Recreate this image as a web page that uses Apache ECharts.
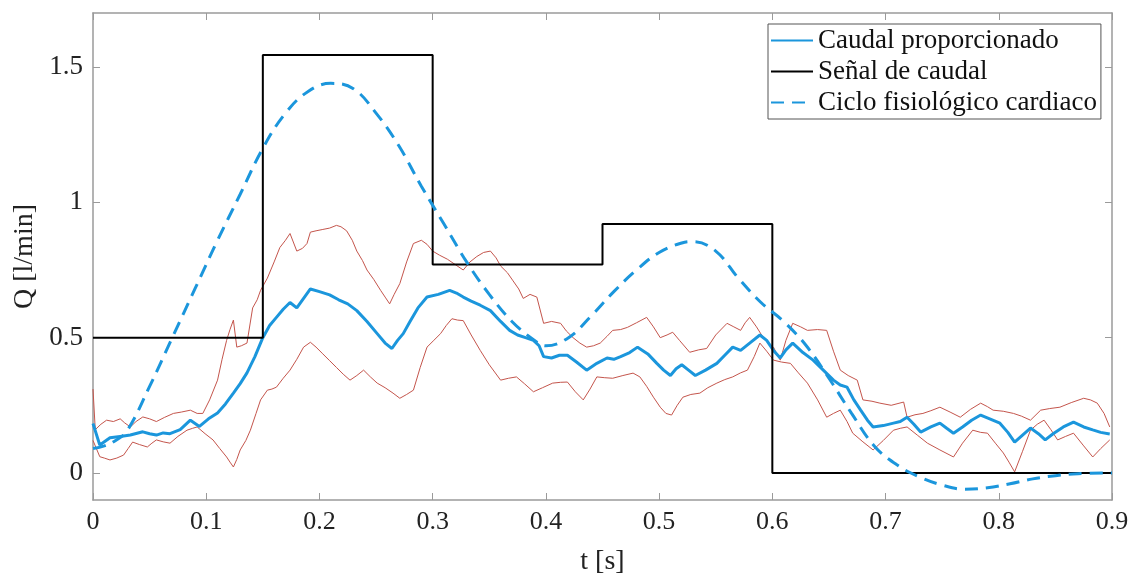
<!DOCTYPE html>
<html>
<head>
<meta charset="utf-8">
<script src="https://cdn.jsdelivr.net/npm/echarts@6/dist/echarts.min.js"></script>
<style>
html,body{margin:0;padding:0;background:#fff;}
#chart{width:1137px;height:583px;}
</style>
</head>
<body>
<div id="chart"></div>
<script>
// ---------- DATA ----------
const xTicks = [0, 0.1, 0.2, 0.3, 0.4, 0.5, 0.6, 0.7, 0.8, 0.9];
const xTickLabels = ['0', '0.1', '0.2', '0.3', '0.4', '0.5', '0.6', '0.7', '0.8', '0.9'];
const yTicks = [0, 0.5, 1, 1.5];
const yTickLabels = ['0', '0.5', '1', '1.5'];

const seriesNames = ['Caudal proporcionado', 'Señal de caudal', 'Ciclo fisiológico cardiaco'];

// Señal de caudal (step signal)
const senalT = [0, 0.15, 0.3, 0.45, 0.6, 0.9];
const senalQ = [0.5, 1.545, 0.77, 0.92, 0, 0];

// Ciclo fisiológico cardiaco (dashed)
const cicloT = [0, 0.01, 0.02, 0.03, 0.05, 0.07, 0.09, 0.11, 0.13, 0.15, 0.17, 0.19, 0.21, 0.23, 0.25, 0.27, 0.29, 0.31, 0.33, 0.35, 0.37, 0.39, 0.40, 0.42, 0.44, 0.46, 0.48, 0.50, 0.52, 0.53, 0.55, 0.57, 0.59, 0.61, 0.63, 0.65, 0.67, 0.69, 0.71, 0.73, 0.75, 0.77, 0.79, 0.81, 0.83, 0.85, 0.87, 0.9];
const cicloQ = [0.09, 0.10, 0.12, 0.155, 0.32, 0.50, 0.68, 0.86, 1.03, 1.20, 1.33, 1.41, 1.44, 1.42, 1.33, 1.21, 1.06, 0.92, 0.78, 0.66, 0.56, 0.49, 0.47, 0.50, 0.58, 0.67, 0.75, 0.815, 0.85, 0.855, 0.82, 0.72, 0.63, 0.56, 0.47, 0.35, 0.22, 0.10, 0.03, -0.015, -0.045, -0.06, -0.055, -0.04, -0.022, -0.01, -0.003, 0];

// Caudal proporcionado (mean, solid blue) as [t, Q]
const caudalMedio = [[0,0.183],[0.006,0.103],[0.015,0.13],[0.024,0.135],[0.033,0.14],[0.044,0.152],[0.05,0.145],[0.056,0.14],[0.062,0.148],[0.068,0.145],[0.077,0.16],[0.086,0.195],[0.094,0.172],[0.102,0.2],[0.11,0.222],[0.117,0.255],[0.124,0.295],[0.13,0.33],[0.136,0.37],[0.143,0.43],[0.15,0.5],[0.156,0.545],[0.162,0.575],[0.168,0.605],[0.174,0.63],[0.18,0.61],[0.186,0.645],[0.192,0.68],[0.2,0.67],[0.209,0.658],[0.217,0.64],[0.225,0.625],[0.233,0.6],[0.242,0.56],[0.251,0.515],[0.258,0.48],[0.264,0.46],[0.269,0.49],[0.274,0.515],[0.28,0.56],[0.287,0.61],[0.295,0.65],[0.305,0.66],[0.315,0.675],[0.321,0.665],[0.327,0.65],[0.334,0.635],[0.342,0.62],[0.351,0.6],[0.36,0.56],[0.368,0.527],[0.375,0.51],[0.382,0.5],[0.389,0.49],[0.394,0.47],[0.398,0.43],[0.405,0.425],[0.412,0.435],[0.419,0.435],[0.427,0.41],[0.436,0.38],[0.445,0.405],[0.454,0.425],[0.46,0.42],[0.466,0.43],[0.474,0.445],[0.481,0.465],[0.49,0.44],[0.498,0.405],[0.504,0.38],[0.51,0.36],[0.515,0.385],[0.52,0.4],[0.526,0.38],[0.532,0.36],[0.541,0.38],[0.551,0.405],[0.558,0.435],[0.565,0.465],[0.572,0.453],[0.58,0.48],[0.589,0.51],[0.595,0.49],[0.601,0.453],[0.607,0.425],[0.612,0.455],[0.618,0.48],[0.627,0.445],[0.636,0.417],[0.645,0.38],[0.654,0.343],[0.66,0.325],[0.666,0.317],[0.672,0.27],[0.678,0.232],[0.684,0.195],[0.689,0.17],[0.698,0.175],[0.707,0.184],[0.713,0.19],[0.719,0.206],[0.725,0.18],[0.731,0.151],[0.74,0.17],[0.748,0.184],[0.754,0.165],[0.76,0.147],[0.768,0.17],[0.776,0.195],[0.784,0.214],[0.792,0.2],[0.801,0.184],[0.808,0.15],[0.814,0.114],[0.821,0.14],[0.828,0.166],[0.835,0.145],[0.841,0.122],[0.848,0.145],[0.857,0.17],[0.866,0.188],[0.875,0.17],[0.883,0.159],[0.89,0.15],[0.898,0.144]];

// Upper band (thin red)
const bandaSuperior = [[0,0.31],[0.002,0.16],[0.007,0.18],[0.012,0.195],[0.018,0.19],[0.024,0.2],[0.028,0.185],[0.033,0.17],[0.038,0.19],[0.044,0.207],[0.05,0.2],[0.056,0.19],[0.063,0.205],[0.071,0.22],[0.078,0.225],[0.086,0.232],[0.092,0.22],[0.097,0.22],[0.103,0.27],[0.11,0.343],[0.114,0.42],[0.118,0.49],[0.121,0.53],[0.124,0.565],[0.127,0.465],[0.131,0.47],[0.136,0.48],[0.141,0.61],[0.145,0.64],[0.148,0.675],[0.154,0.72],[0.16,0.78],[0.165,0.833],[0.17,0.86],[0.174,0.885],[0.18,0.82],[0.185,0.83],[0.189,0.848],[0.192,0.89],[0.197,0.895],[0.203,0.9],[0.209,0.905],[0.215,0.915],[0.219,0.91],[0.224,0.895],[0.229,0.86],[0.233,0.82],[0.238,0.785],[0.242,0.75],[0.248,0.715],[0.254,0.675],[0.258,0.65],[0.262,0.625],[0.266,0.66],[0.271,0.7],[0.277,0.78],[0.283,0.848],[0.29,0.86],[0.295,0.845],[0.3,0.82],[0.306,0.805],[0.313,0.79],[0.32,0.77],[0.327,0.75],[0.333,0.78],[0.339,0.8],[0.345,0.815],[0.351,0.82],[0.356,0.795],[0.36,0.765],[0.366,0.74],[0.371,0.71],[0.376,0.68],[0.38,0.645],[0.386,0.66],[0.392,0.65],[0.398,0.553],[0.405,0.56],[0.413,0.553],[0.418,0.525],[0.424,0.5],[0.43,0.48],[0.436,0.465],[0.442,0.47],[0.448,0.48],[0.454,0.505],[0.459,0.527],[0.466,0.53],[0.472,0.538],[0.48,0.555],[0.489,0.575],[0.495,0.54],[0.501,0.5],[0.507,0.51],[0.512,0.52],[0.518,0.49],[0.527,0.446],[0.535,0.455],[0.542,0.46],[0.55,0.51],[0.56,0.553],[0.566,0.54],[0.572,0.527],[0.576,0.555],[0.58,0.575],[0.586,0.54],[0.592,0.5],[0.597,0.48],[0.601,0.465],[0.604,0.44],[0.607,0.417],[0.612,0.49],[0.618,0.553],[0.625,0.54],[0.631,0.527],[0.64,0.53],[0.648,0.527],[0.654,0.45],[0.66,0.38],[0.667,0.36],[0.675,0.343],[0.68,0.27],[0.688,0.265],[0.695,0.258],[0.705,0.25],[0.716,0.262],[0.719,0.206],[0.726,0.215],[0.733,0.22],[0.74,0.23],[0.748,0.243],[0.757,0.225],[0.766,0.206],[0.775,0.235],[0.784,0.258],[0.79,0.245],[0.795,0.232],[0.804,0.228],[0.813,0.22],[0.82,0.21],[0.828,0.195],[0.837,0.232],[0.845,0.238],[0.854,0.243],[0.864,0.26],[0.875,0.276],[0.881,0.27],[0.887,0.258],[0.893,0.22],[0.898,0.17]];

// Lower band (thin red)
const bandaInferior = [[0,0.12],[0.006,0.06],[0.01,0.055],[0.015,0.048],[0.021,0.055],[0.027,0.066],[0.031,0.09],[0.035,0.114],[0.041,0.105],[0.048,0.096],[0.052,0.11],[0.056,0.122],[0.062,0.115],[0.068,0.11],[0.075,0.135],[0.083,0.158],[0.088,0.165],[0.092,0.17],[0.099,0.145],[0.106,0.122],[0.112,0.09],[0.118,0.059],[0.121,0.04],[0.124,0.022],[0.127,0.05],[0.13,0.085],[0.135,0.12],[0.139,0.158],[0.144,0.22],[0.148,0.27],[0.154,0.306],[0.158,0.31],[0.162,0.317],[0.168,0.35],[0.174,0.38],[0.18,0.42],[0.186,0.465],[0.192,0.483],[0.197,0.465],[0.203,0.44],[0.209,0.415],[0.215,0.39],[0.221,0.365],[0.227,0.343],[0.233,0.36],[0.239,0.38],[0.245,0.355],[0.251,0.332],[0.258,0.315],[0.265,0.295],[0.271,0.276],[0.277,0.29],[0.283,0.306],[0.289,0.39],[0.295,0.465],[0.301,0.49],[0.307,0.515],[0.312,0.545],[0.317,0.57],[0.322,0.565],[0.327,0.563],[0.334,0.51],[0.342,0.453],[0.35,0.4],[0.36,0.343],[0.367,0.35],[0.374,0.355],[0.381,0.33],[0.389,0.3],[0.397,0.315],[0.406,0.332],[0.413,0.335],[0.419,0.336],[0.426,0.3],[0.433,0.27],[0.439,0.31],[0.445,0.355],[0.452,0.352],[0.459,0.35],[0.468,0.36],[0.477,0.369],[0.483,0.355],[0.489,0.32],[0.495,0.28],[0.501,0.243],[0.506,0.22],[0.511,0.214],[0.516,0.25],[0.521,0.28],[0.528,0.29],[0.536,0.295],[0.543,0.315],[0.551,0.332],[0.558,0.345],[0.565,0.355],[0.572,0.37],[0.578,0.38],[0.584,0.43],[0.589,0.48],[0.595,0.45],[0.601,0.417],[0.608,0.41],[0.616,0.405],[0.623,0.37],[0.631,0.332],[0.64,0.27],[0.648,0.206],[0.654,0.22],[0.66,0.232],[0.666,0.19],[0.671,0.147],[0.68,0.115],[0.689,0.085],[0.698,0.12],[0.707,0.158],[0.713,0.165],[0.719,0.17],[0.728,0.14],[0.737,0.11],[0.748,0.085],[0.76,0.059],[0.768,0.11],[0.777,0.158],[0.784,0.15],[0.79,0.147],[0.797,0.11],[0.804,0.074],[0.809,0.04],[0.814,0.004],[0.821,0.08],[0.828,0.158],[0.834,0.18],[0.84,0.195],[0.846,0.16],[0.852,0.122],[0.859,0.135],[0.866,0.147],[0.875,0.1],[0.883,0.059],[0.89,0.09],[0.898,0.122]];

// ---------- CHART ----------
const FONT = 'Liberation Serif';
const AXIS_COLOR = '#9a9a9a';
const BLUE = '#1B96DC';
const RED = '#C4554C';

const zip = (a, b) => a.map((v, i) => [v, b[i]]);

const chart = echarts.init(document.getElementById('chart'), null, {renderer: 'canvas'});

const baseX = {
  type: 'value', min: 0, max: 0.9,
  axisLine: {show: true, onZero: false, lineStyle: {color: AXIS_COLOR, width: 1.5}},
  axisTick: {show: true, inside: true, length: 7, customValues: xTicks, lineStyle: {color: AXIS_COLOR, width: 1}},
  splitLine: {show: false}
};
const baseY = {
  type: 'value', min: -0.1, max: 1.7,
  axisLine: {show: true, onZero: false, lineStyle: {color: AXIS_COLOR, width: 1.5}},
  axisTick: {show: true, inside: true, length: 7, customValues: yTicks, lineStyle: {color: AXIS_COLOR, width: 1}},
  splitLine: {show: false}
};

chart.setOption({
  backgroundColor: '#ffffff',
  animation: false,
  grid: {left: 93, right: 25, top: 13, bottom: 83, containLabel: false},
  legend: {
    show: true,
    data: seriesNames,
    orient: 'vertical',
    left: 768, top: 24,
    itemWidth: 42, itemHeight: 14, itemGap: 2,
    padding: [2, 4, 2, 2],
    borderColor: '#555', borderWidth: 1,
    backgroundColor: '#fff',
    itemStyle: {color: 'rgba(0,0,0,0)', borderColor: 'rgba(0,0,0,0)', borderWidth: 0, opacity: 0},
    textStyle: {fontFamily: FONT, fontSize: 27, color: '#111', lineHeight: 29}
  },
  xAxis: [
    Object.assign({}, baseX, {
      position: 'bottom',
      name: 't [s]', nameLocation: 'middle', nameGap: 48,
      nameTextStyle: {fontFamily: FONT, fontSize: 28, color: '#222'},
      axisLabel: {
        show: true, margin: 9, customValues: xTicks,
        fontFamily: FONT, fontSize: 26, color: '#222',
        formatter: v => { const i = xTicks.findIndex(t => Math.abs(t - v) < 1e-9); return i >= 0 ? xTickLabels[i] : ''; }
      }
    }),
    Object.assign({}, baseX, {position: 'top', axisLabel: {show: false}})
  ],
  yAxis: [
    Object.assign({}, baseY, {
      position: 'left',
      name: 'Q [l/min]', nameLocation: 'middle', nameGap: 52, nameRotate: 90,
      nameTextStyle: {fontFamily: FONT, fontSize: 28, color: '#222'},
      axisLabel: {
        show: true, margin: 10, customValues: yTicks,
        fontFamily: FONT, fontSize: 27, color: '#222',
        formatter: v => { const i = yTicks.findIndex(t => Math.abs(t - v) < 1e-9); return i >= 0 ? yTickLabels[i] : ''; }
      }
    }),
    Object.assign({}, baseY, {position: 'right', axisLabel: {show: false}})
  ],
  series: [
    {
      name: 'banda superior', type: 'line', data: bandaSuperior,
      showSymbol: false, symbol: 'none', silent: true,
      lineStyle: {color: RED, width: 1}, z: 2
    },
    {
      name: 'banda inferior', type: 'line', data: bandaInferior,
      showSymbol: false, symbol: 'none', silent: true,
      lineStyle: {color: RED, width: 1}, z: 2
    },
    {
      name: seriesNames[0], type: 'line', data: caudalMedio,
      showSymbol: false, symbol: 'none',
      itemStyle: {color: BLUE},
      lineStyle: {color: BLUE, width: 3}, z: 3
    },
    {
      name: seriesNames[1], type: 'line', data: zip(senalT, senalQ), step: 'end',
      showSymbol: false, symbol: 'none',
      itemStyle: {color: '#000'},
      lineStyle: {color: '#000', width: 2}, z: 4
    },
    {
      name: seriesNames[2], type: 'line', data: zip(cicloT, cicloQ), smooth: 0.4,
      showSymbol: false, symbol: 'none',
      itemStyle: {color: BLUE},
      lineStyle: {color: BLUE, width: 3, type: [13, 8]}, z: 5
    }
  ]
});
</script>
</body>
</html>
